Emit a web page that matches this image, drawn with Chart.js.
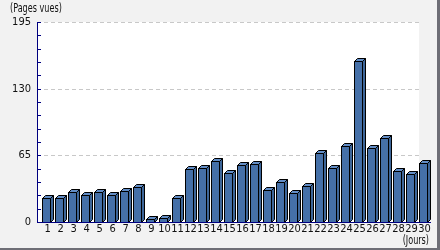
<!DOCTYPE html>
<html>
<head>
<meta charset="utf-8">
<script src="https://cdn.jsdelivr.net/npm/chart.js@4/dist/chart.umd.min.js"></script>
<style>
    html, body { margin: 0; padding: 0; background: #f2f2f2; }
    #wrap { width: 440px; height: 250px; }
</style>
</head>
<body>
<div id="wrap"><canvas id="visits" width="440" height="250"></canvas></div>
<script>
const days = [1, 2, 3, 4, 5, 6, 7, 8, 9, 10, 11, 12, 13, 14, 15, 16, 17, 18, 19, 20, 21, 22, 23, 24, 25, 26, 27, 28, 29, 30];
const views = [23, 23, 29, 26, 29, 26, 30, 34, 3, 4, 23, 52, 53, 59, 48, 56, 57, 31, 39, 28, 35, 67, 53, 74, 157, 72, 82, 50, 47, 58];
const yMajor = [0, 65, 130, 195];
const yMinorStep = 13;

const fontFamily = '"DejaVu Sans Condensed", sans-serif';
const depth = 3;

// narrow caption, squeezed horizontally like the original
function caption(ctx, text, x, y, align) {
    ctx.save();
    ctx.font = '12px ' + fontFamily;
    ctx.textBaseline = 'middle';
    ctx.textAlign = align;
    ctx.translate(x, y);
    ctx.scale(0.75, 1);
    ctx.fillText(text, 0, 0);
    ctx.restore();
}

const decor = {
    id: 'decor',
    beforeDraw(chart) {
        const ctx = chart.ctx;
        const area = chart.chartArea;
        const y = chart.scales.y;
        ctx.save();
        ctx.fillStyle = '#f2f2f2';
        ctx.fillRect(0, 0, 440, 250);
        // shadow frame
        ctx.fillStyle = '#6e6e76';
        ctx.fillRect(437, 0, 3, 250);
        ctx.fillRect(0, 248, 440, 2);
        // back wall
        ctx.fillStyle = '#ffffff';
        ctx.fillRect(area.left, area.top, 419 - area.left, area.bottom - area.top);
        // dashed grid
        ctx.strokeStyle = '#c8c8c8';
        ctx.lineWidth = 1;
        ctx.setLineDash([4, 3]);
        yMajor.filter(v => v > 0).forEach(v => {
            const py = Math.round(y.getPixelForValue(v)) + 0.5;
            ctx.beginPath();
            ctx.moveTo(area.left, py);
            ctx.lineTo(419, py);
            ctx.stroke();
        });
        ctx.restore();
    },
    afterDatasetsDraw(chart) {
        const ctx = chart.ctx;
        const meta = chart.getDatasetMeta(0);
        ctx.save();
        ctx.strokeStyle = '#000000';
        ctx.lineWidth = 1;
        meta.data.forEach(el => {
            const l = Math.round(el.x - 5.5) + 0.5;
            const r = l + 8;
            const t = Math.round(el.y) + 0.5;
            const b = Math.round(el.base) + 0.5;
            // front
            ctx.fillStyle = '#4570a8';
            ctx.fillRect(l, t, r - l, b - t);
            ctx.strokeRect(l, t, r - l, b - t);
            // top
            ctx.beginPath();
            ctx.moveTo(l, t);
            ctx.lineTo(l + depth, t - depth);
            ctx.lineTo(r + depth, t - depth);
            ctx.lineTo(r, t);
            ctx.closePath();
            ctx.fillStyle = '#628dc6';
            ctx.fill();
            ctx.stroke();
            // side
            ctx.beginPath();
            ctx.moveTo(r, t);
            ctx.lineTo(r + depth, t - depth);
            ctx.lineTo(r + depth, b - depth);
            ctx.lineTo(r, b);
            ctx.closePath();
            ctx.fillStyle = '#3d6699';
            ctx.fill();
            ctx.stroke();
        });
        ctx.restore();
    },
    afterDraw(chart) {
        const ctx = chart.ctx;
        const area = chart.chartArea;
        const y = chart.scales.y;
        ctx.save();
        ctx.strokeStyle = '#000080';
        ctx.lineWidth = 1;
        ctx.beginPath();
        ctx.moveTo(area.left + 0.5, area.top);
        ctx.lineTo(area.left + 0.5, area.bottom + 0.5);
        ctx.lineTo(area.right, area.bottom + 0.5);
        ctx.stroke();
        for (let v = 0; v <= 195; v += yMinorStep) {
            const py = Math.round(y.getPixelForValue(v)) + 0.5;
            ctx.beginPath();
            ctx.moveTo(area.left, py);
            ctx.lineTo(area.left + 4, py);
            ctx.stroke();
        }
        ctx.fillStyle = '#111111';
        caption(ctx, '(Pages vues)', 10, 9, 'left');
        caption(ctx, '(Jours)', 429, 241, 'right');
        ctx.restore();
    }
};

new Chart(document.getElementById('visits'), {
    type: 'bar',
    data: {
        datasets: [{
            data: days.map((d, i) => ({ x: d, y: views[i] })),
            backgroundColor: 'rgba(0,0,0,0)',
            borderWidth: 0,
            barThickness: 8
        }]
    },
    options: {
        responsive: false,
        animation: false,
        layout: { padding: { top: 22, right: 9, left: 0, bottom: 0 } },
        plugins: {
            legend: { display: false },
            tooltip: { enabled: false }
        },
        scales: {
            x: {
                type: 'linear',
                offset: false,
                min: 0.19,
                max: 30.5,
                afterFit: s => { s.height = 28; },
                grid: { display: false, drawTicks: false },
                border: { display: false },
                ticks: {
                    stepSize: 1,
                    includeBounds: false,
                    autoSkip: false,
                    maxRotation: 0,
                    padding: 1,
                    color: '#111111',
                    font: { family: fontFamily, size: 11 },
                    callback: v => days.includes(v) ? String(v) : ''
                }
            },
            y: {
                min: 0,
                max: 195,
                afterFit: s => { s.width = 37; },
                grid: { display: false, drawTicks: false },
                border: { display: false },
                ticks: {
                    stepSize: 65,
                    padding: 6,
                    color: '#111111',
                    font: { family: fontFamily, size: 11 },
                    callback: v => yMajor.includes(v) ? String(v) : ''
                }
            }
        }
    },
    plugins: [decor]
});
</script>
</body>
</html>
